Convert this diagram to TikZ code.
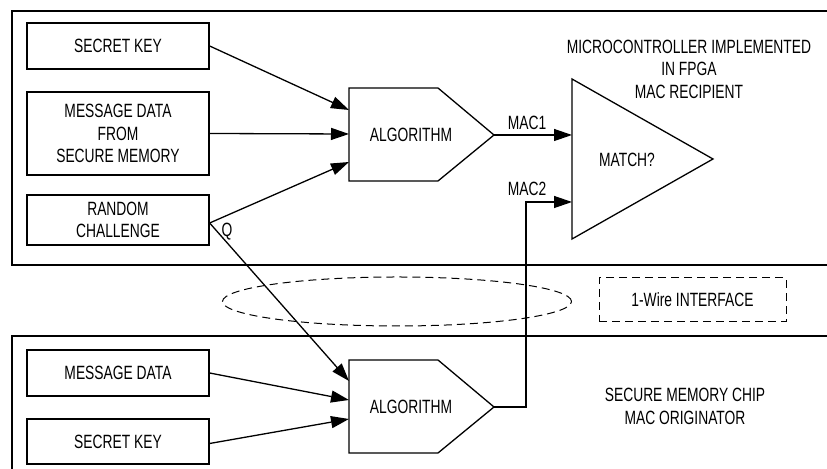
\documentclass[tikz,border=0pt]{standalone}
\usepackage{fontspec}
\setmainfont{Liberation Sans}[FakeStretch=0.72]
\usetikzlibrary{arrows.meta}
\usetikzlibrary{shapes.geometric}
\tikzset{box/.style={draw, line width=0.65pt, minimum width=91pt, inner sep=0pt, align=center}}
\tikzset{lbl/.style={inner sep=0pt, align=center}}
\tikzset{wire/.style={line width=0.65pt, -{Triangle[length=9pt,width=6pt]}}}
\tikzset{dashline/.style={line width=0.5pt, dash pattern=on 4pt off 2.5pt}}

\begin{document}
\begin{tikzpicture}[x=0.5pt, y=-0.5pt, font=\fontsize{9.6}{11.25}\selectfont]
\useasboundingbox (0,0) rectangle (827,469);
\draw[line width=0.65pt] (827,11) -| (12,265) -- (827,265);
\draw[line width=0.65pt] (827,336) -| (12,469);

\node (sk) [box, minimum height=23pt] at (118,46) {SECRET KEY};
\node (md) [box, minimum height=41.5pt] at (118,133.5) {MESSAGE DATA\\FROM\\SECURE MEMORY};
\node (rc) [box, minimum height=25pt] at (118,220) {RANDOM\\CHALLENGE};
\node (mdb) [box, minimum height=23pt] at (118,373) {MESSAGE DATA};
\node (skb) [box, minimum height=22.5pt] at (118,441.5) {SECRET KEY};

\draw[line width=0.65pt] (349,88) -- (438,88) -- (494,135) coordinate (mac1out) -- (438,181) -- (349,181) -- cycle;
\node (alg1) [lbl] at (411,135) {ALGORITHM};
\draw[line width=0.65pt] (349,360) -- (438,360) -- (494,407) coordinate (mac2out) -- (438,453) -- (349,453) -- cycle;
\node (alg2) [lbl] at (411,407) {ALGORITHM};
\draw[line width=0.65pt] (572,79) -- (713,159) -- (572,239) -- cycle;
\node (match) [lbl] at (627,160) {MATCH?};

\coordinate (in1) at (349,110);
\coordinate (in2) at (349,134);
\coordinate (in3) at (349,162);
\coordinate (in4) at (349,381);
\coordinate (in5) at (349,400);
\coordinate (in6) at (349,419);
\coordinate (mac1in) at (572,135);
\coordinate (mac2in) at (572,202);

\draw[wire] (sk.east) -- (in1);
\draw[wire] (md.east) -- (in2);
\draw[wire] ([yshift=-1.5pt]rc.east) -- (in3);
\draw[wire] ([yshift=-1.5pt]rc.east) -- (in4);
\draw[wire] (mdb.east) -- (in5);
\draw[wire] ([yshift=-1pt]skb.east) -- (in6);
\draw[wire] (mac1out) -- (mac1in);
\draw[wire] (mac2out) -- ++(32,0) |- (mac2in);

\node (mac1) [lbl] at (527,123) {MAC1};
\node (mac2) [lbl] at (527,189) {MAC2};
\node (q) [lbl] at (227,232) {Q};
\node (fpga) [lbl] at (689,69) {MICROCONTROLLER IMPLEMENTED\\IN FPGA\\MAC RECIPIENT};
\node (chip) [lbl] at (685,406.5) {SECURE MEMORY CHIP\\MAC ORIGINATOR};

\node (loop) [dashline, draw, ellipse, minimum width=174.5pt, minimum height=24.5pt, inner sep=0pt] at (397,301.5) {};
\node (ow) [dashline, draw, minimum width=93.5pt, minimum height=22pt, inner sep=0pt] at (692.5,300) {1-Wire INTERFACE};
\end{tikzpicture}
\end{document}
